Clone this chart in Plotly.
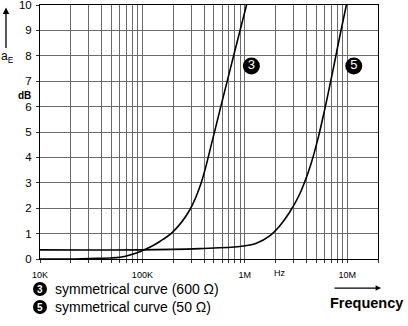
import plotly.graph_objects as go

# Data
freq_600 = [1e4, 2e4, 3e4, 4.82e4, 6.04e4, 7.55e4, 9.46e4, 1.18e5, 1.48e5, 2.0e5, 2.9e5,
            3.72e5, 4.84e5, 5.83e5, 7.78e5, 1.04e6]
db_600 = [0.0, 0.0, 0.02, 0.04, 0.07, 0.16, 0.29, 0.46, 0.69, 1.08, 1.93,
          2.95, 4.69, 6.0, 8.0, 10.0]

freq_50 = [1e4, 9.46e4, 3.64e5, 8.93e5, 1.3e6, 1.75e6, 2.19e6, 2.75e6, 3.44e6, 4.31e6,
           5.15e6, 6.03e6, 7.22e6, 8.46e6, 9.82e6]
db_50 = [0.36, 0.36, 0.41, 0.49, 0.62, 0.91, 1.30, 1.85, 2.56, 3.59,
         4.69, 5.88, 7.38, 8.76, 10.0]

label_freq = [1.16e6, 1.16e7]
label_db = [7.6, 7.6]
label_text = ["3", "5"]

legend_nums = ["3", "5"]
legend_texts = ["symmetrical curve (600 Ω)", "symmetrical curve (50 Ω)"]

y_ticks = list(range(0, 11))
x_tick_vals = [m * 10 ** e for e in range(4, 8) for m in range(1, 10) if m * 10 ** e <= 2e7]
x_major = {1e4: "10K", 1e5: "100K", 1e6: "1M", 1e7: "10M"}
x_tick_text = [x_major.get(v, "") for v in x_tick_vals]

FONT = "Liberation Sans, Arial, DejaVu Sans, sans-serif"

fig = go.Figure()
fig.add_trace(go.Scatter(x=freq_600, y=db_600, mode="lines",
                         line=dict(color="black", width=1.6, shape="spline", smoothing=1.0),
                         hoverinfo="skip", showlegend=False))
fig.add_trace(go.Scatter(x=freq_50, y=db_50, mode="lines",
                         line=dict(color="black", width=1.6, shape="spline", smoothing=1.0),
                         hoverinfo="skip", showlegend=False))
fig.add_trace(go.Scatter(x=label_freq, y=label_db, mode="markers+text",
                         marker=dict(color="black", size=17),
                         text=label_text, textposition="middle center",
                         textfont=dict(color="white", size=13, family=FONT),
                         hoverinfo="skip", showlegend=False))

fig.update_xaxes(type="log", range=[4, 7.30103],
                 tickvals=x_tick_vals, ticktext=x_tick_text,
                 ticks="outside", ticklen=3, tickcolor="#333",
                 tickfont=dict(size=9, family=FONT, color="black"),
                 ticklabelstandoff=4, ticklabeloverflow="allow", automargin=False,
                 showgrid=True, gridcolor="#6a6a6a", gridwidth=1,
                 showline=True, linecolor="black", linewidth=1, mirror=True,
                 zeroline=False)
fig.update_yaxes(range=[0, 10], tickvals=y_ticks,
                 ticks="outside", ticklen=3, tickcolor="#333",
                 tickfont=dict(size=11.5, family=FONT, color="black"),
                 ticklabelstandoff=2,
                 ticklabeloverflow="allow", automargin=False,
                 showgrid=True, gridcolor="#6a6a6a", gridwidth=1,
                 showline=True, linecolor="black", linewidth=1, mirror=True,
                 zeroline=False)

ann = []
shapes = []
# y axis arrow and label
ann.append(dict(x=-0.1006, y=0.99, xref="paper", yref="paper", text="", showarrow=True,
                ax=0, ay=42, arrowhead=2, arrowsize=1, arrowwidth=1.3, arrowcolor="black"))
ann.append(dict(x=-0.0947, y=0.797, xref="paper", yref="paper", text="a<sub>E</sub>",
                xanchor="center", yanchor="middle",
                showarrow=False, font=dict(size=12, family=FONT, color="black")))
ann.append(dict(x=-0.047, y=0.645, xref="paper", yref="paper", text="<b>dB</b>",
                xanchor="center", yanchor="middle",
                showarrow=False, font=dict(size=10, family=FONT, color="black")))
# Hz
ann.append(dict(x=0.71, y=-0.055, xref="paper", yref="paper", text="Hz",
                xanchor="center", yanchor="middle",
                showarrow=False, font=dict(size=9, family=FONT, color="black")))
# legend lines: black disc with white number, then text
legend_y = [-0.1183, -0.189]
for num, txt, ly in zip(legend_nums, legend_texts, legend_y):
    shapes.append(dict(type="circle", xref="paper", yref="paper",
                       x0=-0.0207, x1=0.0207, y0=ly - 0.0276, y1=ly + 0.0276,
                       fillcolor="black", line=dict(color="black", width=0)))
    ann.append(dict(x=0.0, y=ly, xref="paper", yref="paper", text="<b>" + num + "</b>",
                    xanchor="center", yanchor="middle", showarrow=False,
                    font=dict(size=10, family=FONT, color="white")))
    ann.append(dict(x=0.0385, y=ly, xref="paper", yref="paper", text=txt,
                    xanchor="left", yanchor="middle", showarrow=False,
                    font=dict(size=14, family=FONT, color="black")))
# Frequency with arrow
ann.append(dict(x=1.08, y=-0.1736, xref="paper", yref="paper", xanchor="right", yanchor="middle",
                text="<b>Frequency</b>", showarrow=False,
                font=dict(size=14.5, family=FONT, color="black")))
ann.append(dict(x=1.0089, y=-0.1144, xref="paper", yref="paper", text="", showarrow=True,
                ax=-48, ay=0, arrowhead=2, arrowsize=0.9, arrowwidth=1.2, arrowcolor="black"))

fig.update_layout(width=408, height=326,
                  margin=dict(l=40, r=30, t=5, b=67, pad=0),
                  paper_bgcolor="white", plot_bgcolor="white",
                  annotations=ann, shapes=shapes, showlegend=False)

fig.write_html("out.html")
